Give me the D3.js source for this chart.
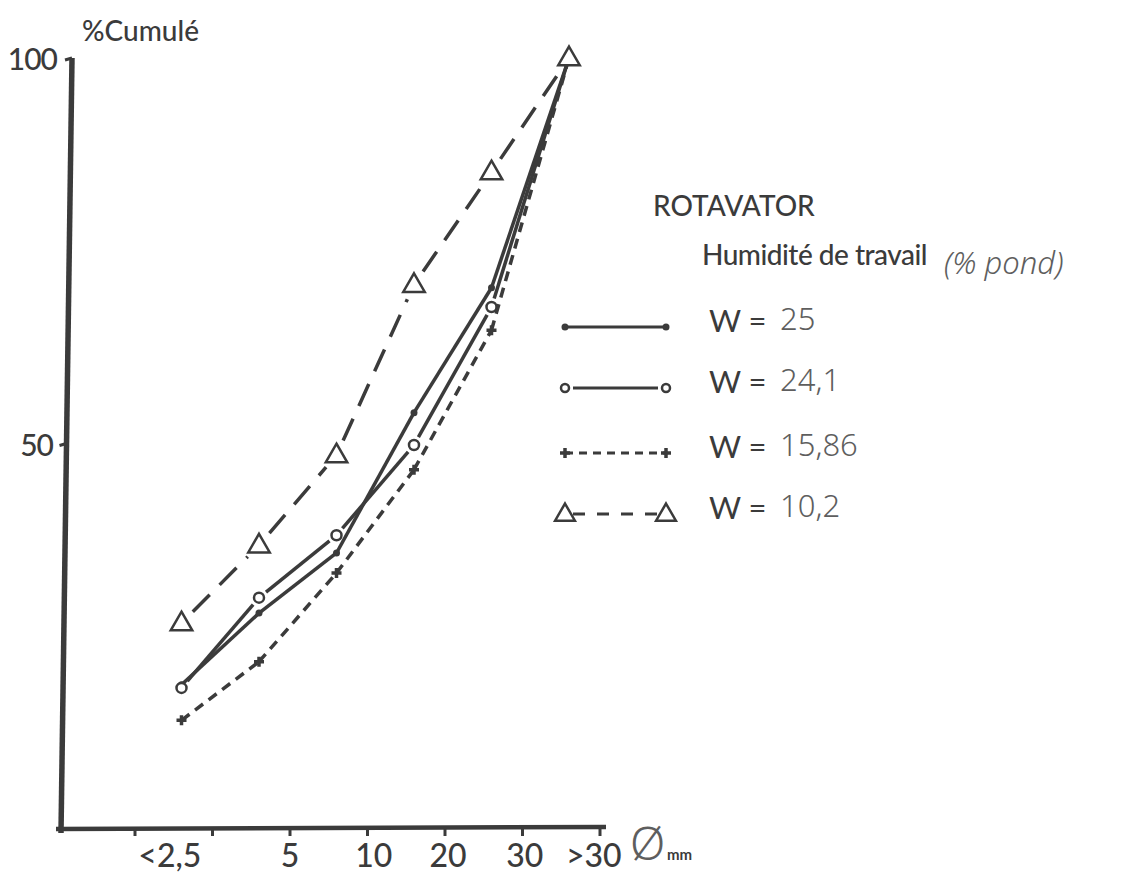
<!doctype html>
<meta charset="utf-8">
<script src="https://d3js.org/d3.v7.min.js"></script>
<style>
  body { margin: 0; background: #fff; }
  text { font-family: Lato, "DejaVu Sans", sans-serif; fill: #3b3b3b; font-weight: 500; }
  .hand { font-family: "Noto Sans", "DejaVu Sans", sans-serif; fill: #5e5e5e; font-weight: 300; }
</style>
<body></body>
<script>

// size classes (mm) and cumulative % per working moisture
var classes = ["<2,5", "2,5-5", "5-10", "10-20", "20-30", ">30"];
var w25    = [18.7, 28.0, 35.8, 54.0, 70.2, 100];
var w241   = [18.3, 30.0, 38.1, 49.8, 67.7, 100];
var w1586  = [14.1, 21.7, 33.2, 46.6, 64.7, 100];
var w102   = [26.7, 36.8, 48.5, 70.6, 85.2, 100];

// x tick labels and where they sit, in class-boundary units
var xTickLabels = ["<2,5", "5", "10", "20", "30", ">30"];
var xTickAt     = [0.45, 2, 3.08, 4.04, 5.03, 5.92];
var yTickLabels = [100, 50];

var width = 1136;
var height = 877;
var ink = "#3b3b3b";

var svg = d3.select("body")
        .append("svg")
        .attr("width", width)
        .attr("height", height);

// boundaries 0..6 along the x axis
var xb = d3.scaleLinear()
        .domain([0, 6])
        .range([135, 600]);

var x = d3.scaleBand()
        .domain(classes)
        .range([135, 600]);

var y = d3.scaleLinear()
        .domain([0, 100])
        .range([829, 58]);

function px(i) { return x(classes[i]) + x.bandwidth() * 0.6; }

// axes (drawn by hand, the scan is slightly tilted)
svg.append("line")
        .attr("x1", 72).attr("y1", y(100))
        .attr("x2", 61).attr("y2", y(0) + 4)
        .attr("stroke", ink).attr("stroke-width", 5.5);

svg.append("line")
        .attr("x1", 56).attr("y1", y(0))
        .attr("x2", 606).attr("y2", y(0) - 2)
        .attr("stroke", ink).attr("stroke-width", 4.5);

svg.selectAll(".xtick")
        .data(d3.range(7))
        .enter()
        .append("line")
        .attr("x1", function(d){ return xb(d); })
        .attr("x2", function(d){ return xb(d); })
        .attr("y1", y(0))
        .attr("y2", y(0) + 7)
        .attr("stroke", ink)
        .attr("stroke-width", 3);

svg.selectAll(".xlab")
        .data(xTickLabels)
        .enter()
        .append("text")
        .attr("x", function(d, i){ return xb(xTickAt[i]); })
        .attr("y", 867)
        .attr("text-anchor", "middle")
        .style("font-size", "32px")
        .text(function(d){ return d; });

svg.selectAll(".ytick")
        .data(yTickLabels)
        .enter()
        .append("line")
        .attr("x1", function(d){ return 72 - (100 - d) * 0.11 - 7; })
        .attr("x2", function(d){ return 72 - (100 - d) * 0.11; })
        .attr("y1", function(d){ return y(d) + 2; })
        .attr("y2", function(d){ return y(d); })
        .attr("stroke", ink)
        .attr("stroke-width", 3);

svg.selectAll(".ylab")
        .data(yTickLabels)
        .enter()
        .append("text")
        .attr("x", function(d){ return d == 100 ? 57 : 53; })
        .attr("y", function(d){ return y(d) + 12; })
        .attr("text-anchor", "end")
        .style("font-size", "30px")
        .style("letter-spacing", "-1px")
        .text(function(d){ return d; });

svg.append("text")
        .attr("x", 82).attr("y", 41)
        .style("font-size", "28px")
        .text("%Cumulé");

svg.append("text")
        .attr("class", "hand")
        .attr("x", 630).attr("y", 860)
        .style("font-size", "46px")
        .text("Ø");
svg.append("text")
        .attr("x", 667).attr("y", 860)
        .style("font-size", "15px")
        .style("font-weight", "bold")
        .text("mm");

// series
var series = [
    {values: w25,   marker: "dot",    dash: null,    gap: 0,  legendDash: null},
    {values: w241,  marker: "circle", dash: null,    gap: 9,  legendDash: null},
    {values: w1586, marker: "plus",   dash: "10,7",  gap: 0,  legendDash: "8,6"},
    {values: w102,  marker: "tri",    dash: "24,14", gap: 16, legendDash: "12,12"}
];

function drawMarker(g, kind, cx, cy, r) {
    if (kind == "dot") {
        g.append("circle").attr("cx", cx).attr("cy", cy).attr("r", 3.5)
                .attr("fill", ink);
    } else if (kind == "circle") {
        g.append("circle").attr("cx", cx).attr("cy", cy).attr("r", r || 5)
                .attr("fill", "#fff").attr("stroke", ink).attr("stroke-width", 2.5);
    } else if (kind == "plus") {
        g.append("path")
                .attr("d", "M" + (cx - 5) + "," + cy + "h10M" + cx + "," + (cy - 5) + "v10")
                .attr("stroke", ink).attr("stroke-width", 3.5);
    } else {
        g.append("path")
                .attr("d", d3.symbol().type(d3.symbolTriangle).size(r ? 170 : 200)())
                .attr("transform", "translate(" + cx + "," + (cy + 1) + ")")
                .attr("fill", "#fff").attr("stroke", ink).attr("stroke-width", 2.5);
    }
}

function segment(g, x1, y1, x2, y2, gap, dash, sw) {
    var dx = x2 - x1, dy = y2 - y1, len = Math.sqrt(dx * dx + dy * dy);
    var ux = dx / len, uy = dy / len;
    g.append("line")
            .attr("x1", x1 + ux * gap).attr("y1", y1 + uy * gap)
            .attr("x2", x2 - ux * gap).attr("y2", y2 - uy * gap)
            .attr("stroke", ink)
            .attr("stroke-width", sw || 3.5)
            .attr("stroke-dasharray", dash);
}

series.forEach(function(s){
    var g = svg.append("g");
    for (var i = 0; i < s.values.length - 1; i++) {
        segment(g, px(i), y(s.values[i]), px(i + 1), y(s.values[i + 1]), s.gap, s.dash);
    }
    s.values.forEach(function(v, i){
        if (i < s.values.length - 1 || s.marker == "tri") drawMarker(g, s.marker, px(i), y(v));
    });
});

// legend
var legendNames = ["25", "24,1", "15,86", "10,2"];
var legendY = [327, 388, 453, 514];

svg.append("text")
        .attr("x", 653).attr("y", 216)
        .style("font-size", "28px")
        .text("ROTAVATOR");

svg.append("text")
        .attr("x", 702).attr("y", 265)
        .style("font-size", "28px")
        .style("letter-spacing", "-0.5px")
        .text("Humidité de travail");

svg.append("text")
        .attr("class", "hand")
        .attr("x", 944).attr("y", 274)
        .style("font-size", "31px")
        .style("font-style", "italic")
        .text("(% pond)");

series.forEach(function(s, i){
    var g = svg.append("g");
    var ly = legendY[i];
    var x1 = 565, x2 = 666;
    segment(g, x1, ly, x2, ly, s.gap ? 8 : 0, s.legendDash, 3);
    drawMarker(g, s.marker, x1, ly, 4);
    drawMarker(g, s.marker, x2, ly, 4);

    g.append("text")
            .attr("x", 709).attr("y", ly + 5)
            .style("font-size", "31px")
            .style("font-weight", "400")
            .text("W =");
    g.append("text")
            .attr("class", "hand")
            .attr("x", 780).attr("y", ly + 3)
            .style("font-size", "31px")
            .text(legendNames[i]);
});

</script>
